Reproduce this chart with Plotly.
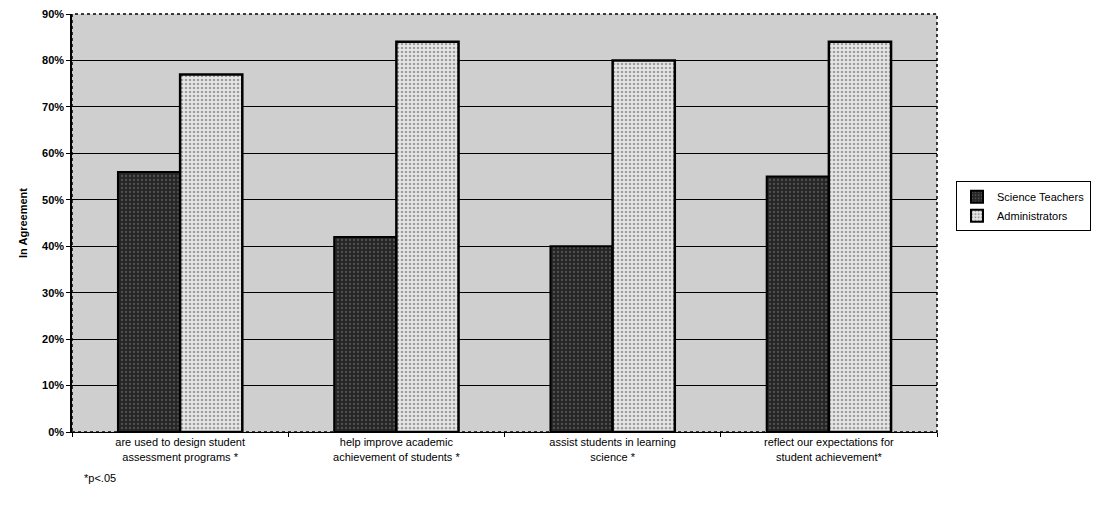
import plotly.graph_objects as go

categories = [
    "are used to design student<br>assessment programs *",
    "help improve academic<br>achievement of students *",
    "assist students in learning<br>science *",
    "reflect our expectations for<br>student achievement*",
]
teachers = [0.56, 0.42, 0.40, 0.55]
administrators = [0.77, 0.84, 0.80, 0.84]
y_ticks = [i / 10 for i in range(10)]
y_tick_labels = [f"{i * 10}%" for i in range(10)]

FONT = "Liberation Sans, Arial, sans-serif"

fig = go.Figure()
fig.add_trace(go.Bar(
    name="Science Teachers", x=categories, y=teachers,
    marker=dict(color="#333333", line=dict(color="black", width=2),
                pattern=dict(shape=".", fgcolor="#7a7a7a", bgcolor="#262626",
                             size=4, solidity=0.25)),
))
fig.add_trace(go.Bar(
    name="Administrators", x=categories, y=administrators,
    marker=dict(color="#d8d8d8", line=dict(color="black", width=2.5),
                pattern=dict(shape=".", fgcolor="#555555", bgcolor="#e6e6e6",
                             size=4, solidity=0.35)),
))

fig.update_layout(
    width=1105, height=511,
    margin=dict(l=72, r=168, t=14, b=79, autoexpand=False),
    paper_bgcolor="white",
    plot_bgcolor="#cfcfcf",
    barmode="group",
    bargap=0.425,
    bargroupgap=0,
    font=dict(family=FONT, size=11, color="black"),
    showlegend=True,
    legend=dict(
        x=1.022, y=0.54, xanchor="left", yanchor="middle",
        bordercolor="black", borderwidth=1,
        font=dict(family=FONT, size=11, color="black"),
        itemwidth=30, tracegroupgap=0, itemsizing="constant",
    ),
    annotations=[dict(
        text="*p<.05", xref="paper", yref="paper", x=0.012, y=-0.11,
        xanchor="left", yanchor="middle", showarrow=False,
        font=dict(family=FONT, size=11, color="black"),
    )],
)

fig.update_xaxes(
    type="category",
    showline=True, linecolor="black", linewidth=1,
    ticks="outside", tickson="boundaries", ticklen=4, tickcolor="black",
    tickfont=dict(family=FONT, size=11, color="black"),
    showgrid=False, mirror=False,
)
fig.update_yaxes(
    range=[0, 0.9],
    tickvals=y_ticks, ticktext=[f"<b>{t}</b>" for t in y_tick_labels],
    showline=True, linecolor="black", linewidth=1.5,
    ticks="outside", ticklen=4, tickcolor="black",
    showgrid=True, gridcolor="black", gridwidth=1,
    title=dict(text="<b>In Agreement</b>", font=dict(family=FONT, size=11), standoff=12),
    tickfont=dict(family=FONT, size=11, color="black"),
    zeroline=False,
)

# dotted frame around the plotting area
fig.add_shape(type="rect", xref="paper", yref="paper", x0=0, y0=0, x1=1, y1=1,
              line=dict(color="black", width=1.5, dash="dot"), layer="above")

fig.write_html("out.html")
